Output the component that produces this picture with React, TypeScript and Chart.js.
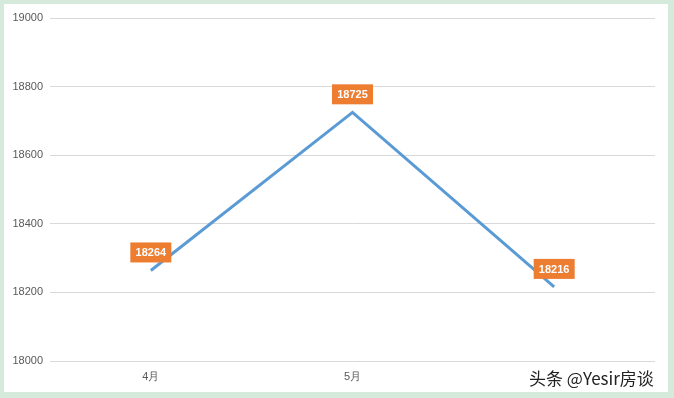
import React, { useEffect, useRef } from "react";
import { Chart, registerables } from "chart.js";

Chart.register(...registerables);

const categories = ["4月", "5月", "6月"];
const values = [18264, 18725, 18216];
const yTicks = [18000, 18200, 18400, 18600, 18800, 19000];

const labelPlugin = {
  id: "boxLabels",
  afterDatasetsDraw(chart: any) {
    const ctx = chart.ctx;
    const meta = chart.getDatasetMeta(0);
    ctx.save();
    ctx.font = "bold 11px 'Liberation Sans', Arial, sans-serif";
    ctx.textAlign = "center";
    ctx.textBaseline = "middle";
    meta.data.forEach((pt: any, i: number) => {
      const text = String(chart.data.datasets[0].data[i]);
      const w = 41;
      const h = 20;
      const cx = pt.x;
      const cy = pt.y - 18;
      ctx.fillStyle = "#ED7D31";
      ctx.fillRect(cx - w / 2, cy - h / 2, w, h);
      ctx.fillStyle = "#ffffff";
      ctx.fillText(text, cx, cy + 1);
    });
    ctx.restore();
  },
};

export default function App() {
  const ref = useRef<HTMLCanvasElement>(null);
  useEffect(() => {
    document.body.style.margin = "0";
    document.body.style.background = "#d6eadb";
    const chart = new Chart(ref.current!, {
      type: "line",
      data: {
        labels: categories,
        datasets: [
          {
            data: values,
            borderColor: "#5B9BD5",
            borderWidth: 3,
            pointRadius: 0,
            tension: 0,
            fill: false,
          },
        ],
      },
      options: {
        animation: false,
        responsive: false,
        maintainAspectRatio: false,
        layout: { padding: { top: 14, right: 13, left: 0, bottom: 0 } },
        plugins: { legend: { display: false }, tooltip: { enabled: false } },
        scales: {
          x: {
            offset: true,
            grid: { display: false, drawTicks: false },
            border: { display: false },
            ticks: {
              padding: 9,
              color: "#595959",
              font: { size: 11, family: "'Liberation Sans', Arial, sans-serif" },
            },
            afterFit(scale: any) {
              scale.height = 31;
            },
          },
          y: {
            min: 18000,
            max: 19000,
            afterBuildTicks(scale: any) {
              scale.ticks = yTicks.map((v) => ({ value: v }));
            },
            grid: { color: "#d9d9d9", lineWidth: 1, drawTicks: false },
            border: { display: false },
            ticks: {
              padding: 7,
              color: "#595959",
              font: { size: 11, family: "'Liberation Sans', Arial, sans-serif" },
              callback: (v: any) => String(v),
            },
            afterFit(scale: any) {
              scale.width = 46;
            },
          },
        },
      },
      plugins: [labelPlugin],
    });
    return () => chart.destroy();
  }, []);
  return (
    <div style={{ position: "relative", width: 674, height: 398, background: "#d6eadb" }}>
      <div
        style={{
          position: "absolute",
          left: 4,
          top: 4,
          width: 664,
          height: 388,
          background: "#ffffff",
        }}
      >
        <canvas ref={ref} width={664} height={388} style={{ display: "block" }} />
      </div>
      <div
        style={{
          position: "absolute",
          left: 527,
          top: 367,
          padding: "0 2px",
          background: "#ffffff",
          color: "#222",
          fontSize: 17,
          lineHeight: "22px",
          fontFamily: "'Noto Sans CJK SC', sans-serif",
          whiteSpace: "nowrap",
        }}
      >
        头条 @Yesir房谈
      </div>
    </div>
  );
}
